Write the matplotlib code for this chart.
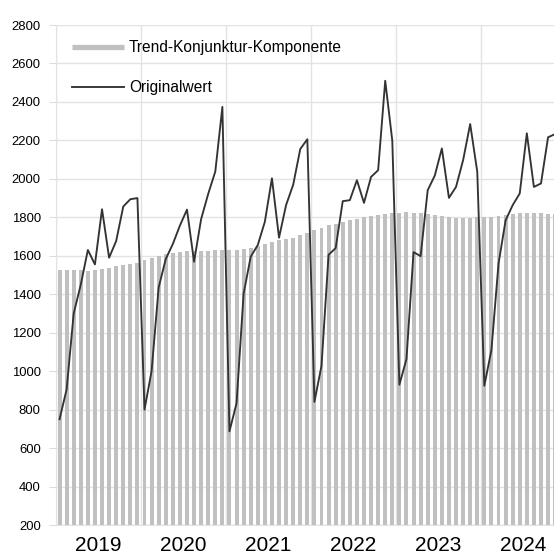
import matplotlib
matplotlib.use("Agg")
import matplotlib.pyplot as plt
from matplotlib.lines import Line2D
from matplotlib import font_manager as fm
import numpy as np

years = ["2019", "2020", "2021", "2022", "2023", "2024"]

orig_2019 = [750, 905, 1300, 1450, 1630, 1555, 1842, 1590, 1677, 1856, 1894, 1900]
orig_2020 = [800, 1000, 1435, 1583, 1661, 1757, 1840, 1569, 1791, 1922, 2038, 2374]
orig_2021 = [687, 833, 1403, 1595, 1656, 1777, 2003, 1694, 1864, 1969, 2155, 2206]
orig_2022 = [840, 1028, 1605, 1640, 1884, 1889, 1993, 1875, 2010, 2045, 2510, 2198]
orig_2023 = [929, 1063, 1619, 1598, 1941, 2017, 2158, 1901, 1958, 2097, 2285, 2037]
orig_2024 = [924, 1110, 1558, 1784, 1863, 1924, 2237, 1958, 1976, 2216, 2233]

trend_2019 = [1525, 1525, 1525, 1525, 1523, 1525, 1530, 1535, 1545, 1550, 1557, 1560]
trend_2020 = [1578, 1588, 1600, 1609, 1614, 1619, 1623, 1624, 1626, 1627, 1628, 1628]
trend_2021 = [1630, 1632, 1636, 1642, 1650, 1660, 1670, 1680, 1687, 1694, 1706, 1720]
trend_2022 = [1732, 1746, 1758, 1767, 1776, 1784, 1793, 1802, 1807, 1814, 1819, 1823]
trend_2023 = [1824, 1826, 1825, 1823, 1819, 1814, 1809, 1803, 1798, 1797, 1798, 1800]
trend_2024 = [1802, 1803, 1805, 1812, 1819, 1824, 1824, 1823, 1821, 1819, 1817]

orig = orig_2019 + orig_2020 + orig_2021 + orig_2022 + orig_2023 + orig_2024
trend = trend_2019 + trend_2020 + trend_2021 + trend_2022 + trend_2023 + trend_2024

names = {f.name for f in fm.fontManager.ttflist}
base = "Liberation Sans" if "Liberation Sans" in names else "DejaVu Sans"

W, H = 554, 557
fig = plt.figure(figsize=(W / 100, H / 100), dpi=100)
left_px, top_px, bottom_px = 56, 25, 525
ax = fig.add_axes([left_px / W, 1 - bottom_px / H, 1 - left_px / W, (bottom_px - top_px) / H])

x = np.arange(len(trend))
ax.bar(x, trend, width=0.56, color="#c0c0c0", zorder=2)
xo = np.arange(len(orig))
ax.plot(xo, orig, color="#333333", lw=1.35, zorder=3)

ppm = 7.08
xmax = -0.5 + (W - left_px) / ppm
ax.set_xlim(-0.5, xmax)
ax.set_ylim(200, 2800)
ax.set_yticks(np.arange(200, 2801, 200))

ax.set_xticks([5.5 + 12 * i for i in range(len(years))])
ax.set_xticklabels(years, family=base, fontsize=15)
ax.set_xticks([-0.5 + 12 * i for i in range(len(years))], minor=True)
ax.tick_params(axis="x", which="both", length=0, pad=8)
ax.tick_params(axis="y", length=5, color="#dddddd", pad=6, labelsize=9.4)
for lab in ax.get_yticklabels():
    lab.set_family(base)

ax.grid(axis="y", color="#e3e3e3", lw=1.0)
ax.grid(axis="x", which="minor", color="#e3e3e3", lw=1.0)
ax.grid(axis="x", which="major", visible=False)
ax.set_axisbelow(True)
for s in ["top", "right"]:
    ax.spines[s].set_visible(False)
ax.spines["left"].set_color("#e3e3e3")
ax.spines["bottom"].set_color("#e3e3e3")

handles = [Line2D([0], [0], color="#c0c0c0", lw=3.8, solid_capstyle="butt"),
           Line2D([0], [0], color="#333333", lw=1.35)]
leg = ax.legend(handles, ["Trend-Konjunktur-Komponente", "Originalwert"],
                loc="upper left", bbox_to_anchor=(10 / (W - left_px), 1 - 9 / (bottom_px - top_px)),
                frameon=False, prop={"family": base, "size": 11.2},
                handlelength=3.3, handletextpad=0.35, labelspacing=1.6, borderaxespad=0)

fig.savefig("out.png", dpi=100)
